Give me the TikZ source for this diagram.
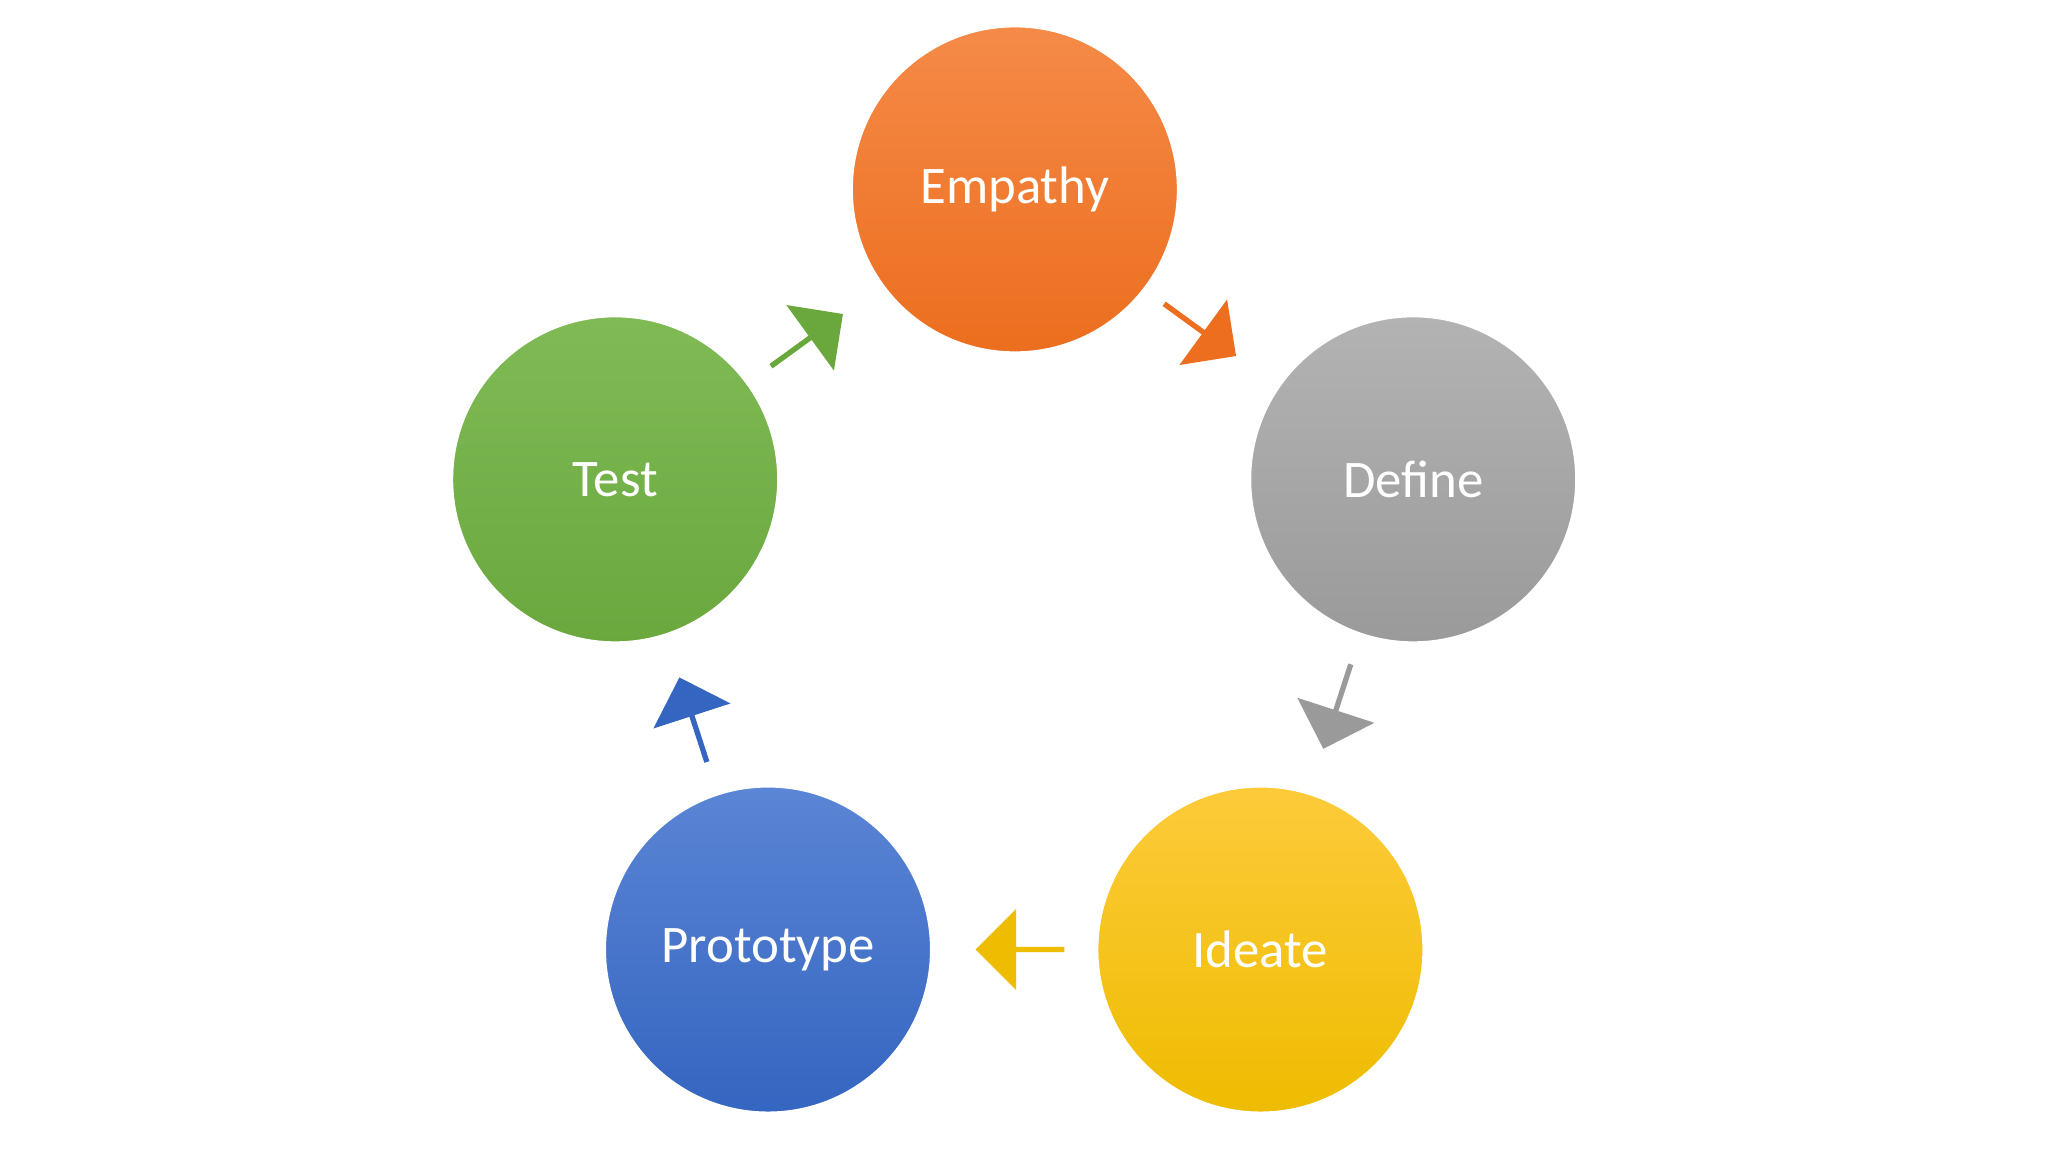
\documentclass[tikz,border=0pt]{standalone}
\usepackage{fontspec}
\setmainfont{Carlito}
\usetikzlibrary{shapes.arrows}
\definecolor{orA}{HTML}{F58A48}\definecolor{orB}{HTML}{EC6E1E}
\definecolor{grA}{HTML}{B3B3B3}\definecolor{grB}{HTML}{9A9A9A}
\definecolor{yeA}{HTML}{FDCB3A}\definecolor{yeB}{HTML}{EEBC00}
\definecolor{blA}{HTML}{5B85D5}\definecolor{blB}{HTML}{3465C0}
\definecolor{gnA}{HTML}{80BA55}\definecolor{gnB}{HTML}{6AA83E}
\tikzset{
 stage/.style 2 args={circle,minimum size=2.5cm,inner sep=0pt,top color=#1,bottom color=#2,
   draw=white,line width=0.6pt,text=white,font=\fontsize{11.5pt}{13pt}\selectfont},
 blk/.style 2 args={single arrow,minimum height=0.68cm,minimum width=0.62cm,
   single arrow head extend=0.1cm,inner sep=0pt,fill=#1,rotate=#2}
}
\begin{document}
\begin{tikzpicture}[x=0.01cm,y=-0.01cm]
\useasboundingbox (0,0) rectangle (1568,882);
\fill[white] (0,0) rectangle (1568,882);
\node[stage={orA}{orB}] (emp) at (777,145) {Empathy};
\node[stage={grA}{grB}] (def) at (1082,367) {Define};
\node[stage={yeA}{yeB}] (ide) at (965,727) {Ideate};
\node[stage={blA}{blB}] (pro) at (588,727) {Prototype};
\node[stage={gnA}{gnB}] (tes) at (471,367) {Test};
\node[blk={orB}{-36}] (a1) at (918,252) {};
\node[blk={grB}{-108}] (a2) at (1024,540) {};
\node[blk={yeB}{180}] (a3) at (782,727) {};
\node[blk={blB}{108}] (a4) at (531,552) {};
\node[blk={gnB}{36}] (a5) at (617,261) {};
\end{tikzpicture}
\end{document}
